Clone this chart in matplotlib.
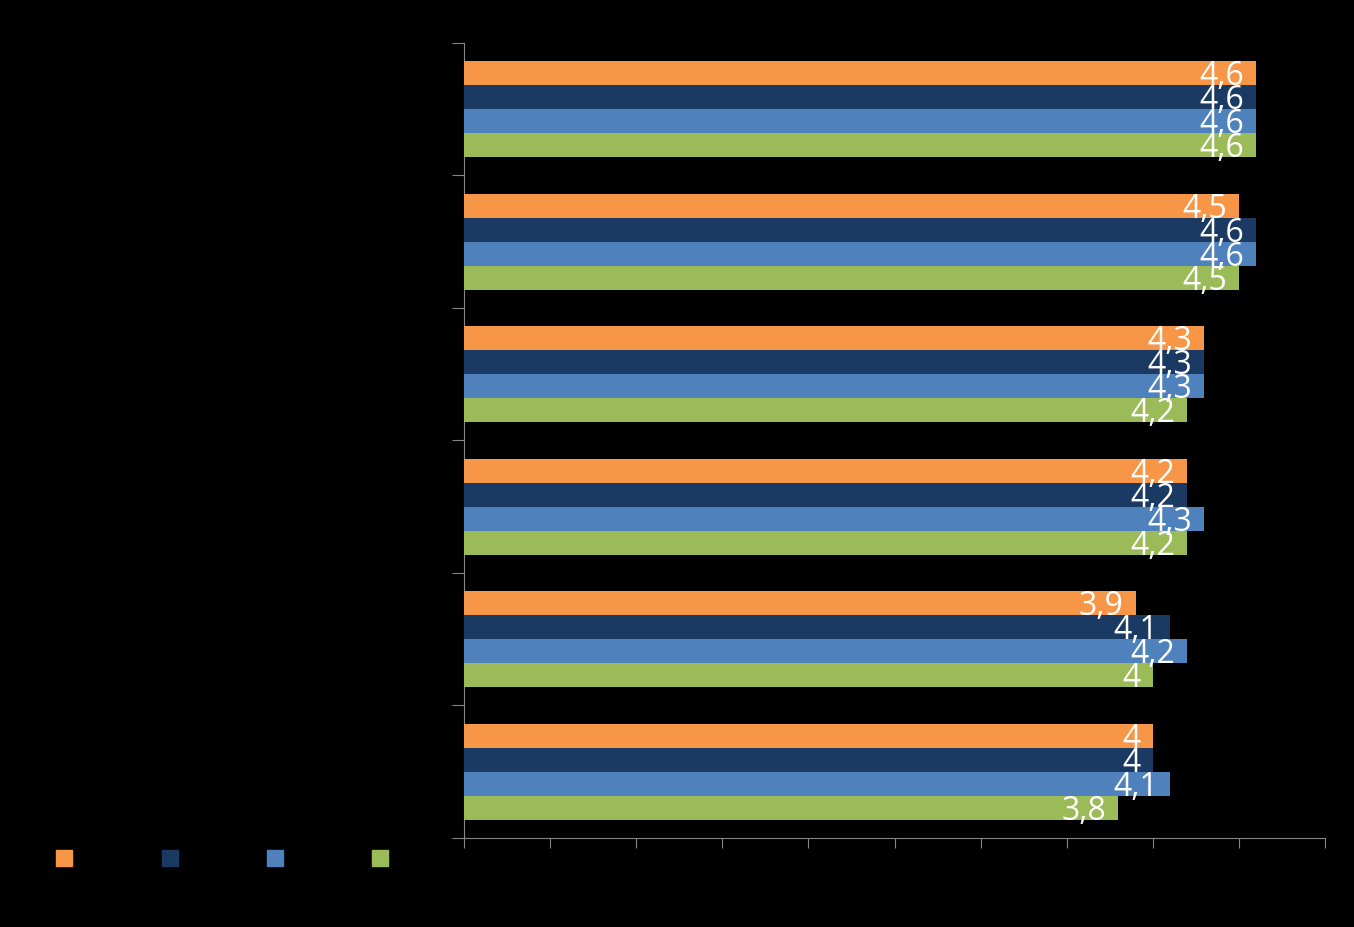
import numpy as np
import matplotlib.pyplot as plt
from matplotlib.lines import Line2D

# valores por grupo (de arriba a abajo), una lista por serie
serie1 = [4.6, 4.5, 4.3, 4.2, 3.9, 4.0]
serie2 = [4.6, 4.6, 4.3, 4.2, 4.1, 4.0]
serie3 = [4.6, 4.6, 4.3, 4.3, 4.2, 4.1]
serie4 = [4.6, 4.5, 4.2, 4.2, 4.0, 3.8]
series = [serie1, serie2, serie3, serie4]
colores = ["#F79646", "#1B3A63", "#4F81BD", "#9BBB59"]

n = len(serie1)
y = np.arange(n)
h = 24 / 132.5

fig = plt.figure(figsize=(13.54, 9.27), dpi=100, facecolor="black")
ax = fig.add_axes([464/1354, 89/927, 861/1354, 795/927])
ax.set_facecolor("black")

for i, (vals, c) in enumerate(zip(series, colores)):
    pos = y + (i - 1.5) * h
    ax.barh(pos, vals, height=h, color=c, zorder=3)
    for p, v in zip(pos, vals):
        txt = f"{v:g}".replace(".", ",")
        ax.text(v - 0.07, p + 0.025, txt, color="white", fontsize=23,
                family="Open Sans", ha="right", va="center", zorder=4)

ax.set_xlim(0, 5)
ax.set_ylim(n - 0.5, -0.5)
ax.set_xticks(np.arange(0, 5.01, 0.5))
ax.set_xticklabels([])
ax.set_yticks(np.arange(-0.5, n, 1))
ax.set_yticklabels([])
gris = "#868686"
for s in ["top", "right"]:
    ax.spines[s].set_visible(False)
for s in ["left", "bottom"]:
    ax.spines[s].set_color(gris)
ax.tick_params(axis="x", colors=gris, length=7.2, direction="out")
ax.tick_params(axis="y", colors=gris, length=8.6, direction="out")

handles = [Line2D([], [], marker="s", linestyle="none", markersize=11.5,
                  markerfacecolor=c, markeredgecolor=c) for c in colores]
fig.legend(handles, ["", "", "", ""], ncol=4, frameon=False,
           loc="center left", bbox_to_anchor=(45/1354, 1 - 859/927),
           handlelength=1.0, columnspacing=6.38, handletextpad=0.2)

plt.savefig("out.png", facecolor="black")
